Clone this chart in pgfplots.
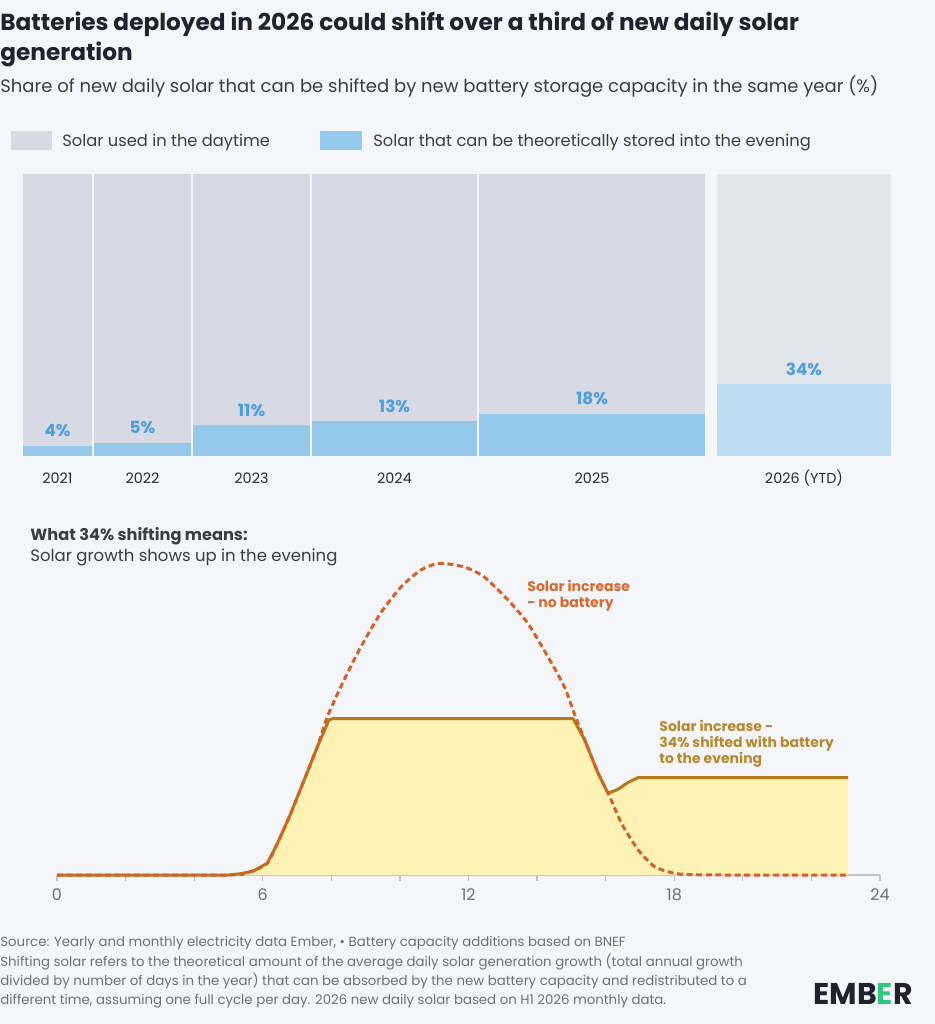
\documentclass[border=0pt]{standalone}
\usepackage{pgfplots}
\pgfplotsset{compat=1.18}
\usepackage{fontspec}
\setmainfont{Poppins}
\definecolor{bg}{HTML}{F4F6FA}
\definecolor{titlec}{HTML}{1F2330}
\definecolor{textc}{HTML}{3A3D45}
\definecolor{barGray}{HTML}{D7D9E4}
\definecolor{barGrayL}{HTML}{E3E5EC}
\definecolor{barBlue}{HTML}{95C9EB}
\definecolor{barBlueL}{HTML}{BDDCF2}
\definecolor{labBlue}{HTML}{4C9FD9}
\definecolor{yearc}{HTML}{2A2A2A}
\definecolor{fillY}{HTML}{FFF2B5}
\definecolor{goldL}{HTML}{B5791A}
\definecolor{orangeD}{HTML}{D2612B}
\definecolor{orangeT}{HTML}{D9692E}
\definecolor{goldT}{HTML}{B58A2E}
\definecolor{axisg}{HTML}{BFC3CC}
\definecolor{tickg}{HTML}{6B7080}
\definecolor{footg}{HTML}{707070}
\definecolor{emberg}{HTML}{2DC77E}
\begin{document}
\begin{tikzpicture}
\begin{scope}[x=0.5pt,y=-0.5pt]
\fill[bg] (0,0) rectangle (935,1024);
\node[anchor=base west,inner sep=0,font=\fontsize{11.6}{13}\selectfont\bfseries,text=titlec] at (0,30) {Batteries deployed in 2026 could shift over a third of new daily solar};
\node[anchor=base west,inner sep=0,font=\fontsize{11.6}{13}\selectfont\bfseries,text=titlec] at (0,60) {generation};
\node[anchor=base west,inner sep=0,font=\fontsize{9}{10}\selectfont,text=textc] at (0,92) {Share of new daily solar that can be shifted by new battery storage capacity in the same year (\%)};
\fill[barGray] (11,131) rectangle (52,150);
\node[anchor=base west,inner sep=0,font=\fontsize{8.15}{10}\selectfont,text=textc] at (62,146) {Solar used in the daytime};
\fill[barBlue] (320,131) rectangle (362,150);
\node[anchor=base west,inner sep=0,font=\fontsize{8.15}{10}\selectfont,text=textc] at (373,146) {Solar that can be theoretically stored into the evening};
\foreach \xx/\yy in {57.5/2021,142.5/2022,251.5/2023,394.5/2024,592/2025,804/2026 (YTD)}
  \node[anchor=base,inner sep=0,font=\fontsize{7.2}{9}\selectfont,text=yearc] at (\xx,483) {\yy};
\node[anchor=base west,inner sep=0,font=\fontsize{8.1}{10}\selectfont\bfseries,text=textc] at (30,540) {What 34\% shifting means:};
\node[anchor=base west,inner sep=0,font=\fontsize{8.25}{10}\selectfont,text=textc] at (30,561) {Solar growth shows up in the evening};
\node[anchor=base west,inner sep=0,font=\fontsize{7}{9}\selectfont\bfseries,text=orangeT] at (527,591) {Solar increase};
\node[anchor=base west,inner sep=0,font=\fontsize{7}{9}\selectfont\bfseries,text=orangeT] at (527,607) {- no battery};
\node[anchor=base west,inner sep=0,font=\fontsize{7}{9}\selectfont\bfseries,text=goldT] at (659,731) {Solar increase -};
\node[anchor=base west,inner sep=0,font=\fontsize{7}{9}\selectfont\bfseries,text=goldT] at (659,747) {34\% shifted with battery};
\node[anchor=base west,inner sep=0,font=\fontsize{7}{9}\selectfont\bfseries,text=goldT] at (659,763) {to the evening};
\node[anchor=base west,inner sep=0,font=\fontsize{6.66}{8}\selectfont,text=footg] at (0,946) {Source: Yearly and monthly electricity data Ember, \textbullet{} Battery capacity additions based on BNEF};
\node[anchor=base west,inner sep=0,font=\fontsize{6.66}{8}\selectfont,text=footg] at (0,966) {Shifting solar refers to the theoretical amount of the average daily solar generation growth (total annual growth};
\node[anchor=base west,inner sep=0,font=\fontsize{6.66}{8}\selectfont,text=footg] at (0,985) {divided by number of days in the year) that can be absorbed by the new battery capacity and redistributed to a};
\node[anchor=base west,inner sep=0,font=\fontsize{6.66}{8}\selectfont,text=footg] at (0,1004) {different time, assuming one full cycle per day. 2026 new daily solar based on H1 2026 monthly data.};
\node[anchor=base east,inner sep=0,font=\fontsize{15}{17}\selectfont\bfseries,text=titlec] at (913,1004) {EMB{\color{emberg}E}R};
\end{scope}
% ---------- bar chart ----------
\begin{axis}[
  at={(0pt,-228pt)}, anchor=origin,
  scale only axis, width=467.5pt, height=141pt,
  xmin=0, xmax=935, ymin=0, ymax=100,
  hide axis, clip=false,
]
\addplot[fill=barGray,draw=none] coordinates {(23,100) (92,100)} \closedcycle;
\addplot[fill=barGray,draw=none] coordinates {(94,100) (191,100)} \closedcycle;
\addplot[fill=barGray,draw=none] coordinates {(193,100) (310,100)} \closedcycle;
\addplot[fill=barGray,draw=none] coordinates {(312,100) (477,100)} \closedcycle;
\addplot[fill=barGray,draw=none] coordinates {(479,100) (705,100)} \closedcycle;
\addplot[fill=barGrayL,draw=none] coordinates {(717,100) (891,100)} \closedcycle;
\addplot[fill=barBlue,draw=none] coordinates {(23,3.65) (92,3.65)} \closedcycle;
\addplot[fill=barBlue,draw=none] coordinates {(94,4.7) (191,4.7)} \closedcycle;
\addplot[fill=barBlue,draw=none] coordinates {(193,10.9) (310,10.9)} \closedcycle;
\addplot[fill=barBlue,draw=none] coordinates {(312,12.4) (477,12.4)} \closedcycle;
\addplot[fill=barBlue,draw=none] coordinates {(479,14.9) (705,14.9)} \closedcycle;
\addplot[fill=barBlueL,draw=none] coordinates {(717,25.4) (891,25.4)} \closedcycle;
\addplot[draw=none, mark=none, nodes near coords, point meta=explicit symbolic,
  every node near coord/.append style={anchor=base, yshift=4.5pt, inner sep=0,
  font=\fontsize{8.4}{10}\selectfont\bfseries, text=labBlue}]
  coordinates {(57.5,3.65) [4\%] (142.5,4.7) [5\%] (251.5,10.9) [11\%] (394.5,12.4) [13\%] (592,14.9) [18\%] (804,25.4) [34\%]};
\end{axis}
% ---------- daily profile ----------
\begin{axis}[
  at={(28.5pt,-437.5pt)}, anchor=origin,
  scale only axis, width=411.5pt, height=160pt,
  xmin=0, xmax=24, ymin=0, ymax=320,
  clip=false,
  axis x line=bottom, axis y line=none,
  x axis line style={-, draw=axisg, line width=0.8pt},
  xtick={0,6,12,18,24}, minor xtick={2,4,8,10,14,16,20,22},
  tick align=outside, major tick length=3pt, minor tick length=3pt,
  every tick/.style={draw=axisg, line width=0.6pt},
  ytick=\empty,
  /pgf/number format/assume math mode=true,
  xticklabel style={font=\fontsize{8}{9}\selectfont, text=tickg, yshift=-0.5pt},
]
\addplot[fill=fillY, draw=none] coordinates {
(0,0) (5.0,0) (5.4,1.5) (5.74,4.3) (6.13,11.7) (6.42,31) (6.81,61) (7.2,94.3) (7.59,128) (7.93,155) (8.05,156.5)
(15.05,156.5) (15.39,135) (15.78,101.7) (16.07,81.7) (16.35,85.5) (16.65,92.5) (16.95,97.5) (23.07,97.5)} \closedcycle;
\addplot[goldL, line width=1.5pt, line join=round] coordinates {
(0,0) (5.0,0) (5.4,1.5) (5.74,4.3) (6.13,11.7) (6.42,31) (6.81,61) (7.2,94.3) (7.59,128) (7.93,155) (8.05,156.5)
(15.05,156.5) (15.39,135) (15.78,101.7) (16.07,81.7) (16.35,85.5) (16.65,92.5) (16.95,97.5) (23.07,97.5)};
\addplot[orangeD, line width=1.5pt, dash pattern=on 3pt off 1.8pt, smooth, tension=0.4] coordinates {
(0,0) (5.0,0) (5.4,1.5) (5.74,4.3) (6.13,11.7) (6.42,31) (6.81,61) (7.2,94.3) (7.59,128) (7.88,158)
(8.37,195) (8.86,228) (9.44,262) (10.03,288) (10.61,305) (11.15,311.7) (11.88,308) (12.46,298) (13.15,275)
(13.73,251.7) (14.32,218) (14.8,188) (15.1,160) (15.39,135) (15.78,101.7) (16.12,78.3) (16.46,51.7)
(16.95,25) (17.43,8.3) (18.0,1.7) (18.5,0.4) (19.5,0) (23.07,0)};
\end{axis}
\end{tikzpicture}
\end{document}
